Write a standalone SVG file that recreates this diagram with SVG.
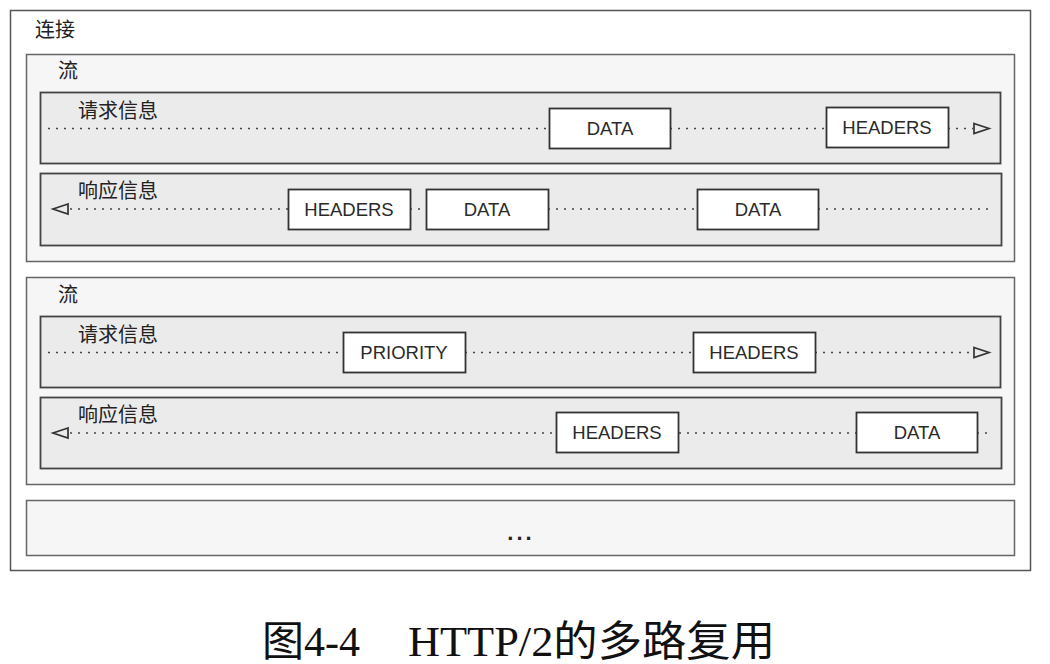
<svg xmlns="http://www.w3.org/2000/svg" width="1050" height="664" viewBox="0 0 1050 664">
<defs>
<style>
.outer{fill:#ffffff;stroke:#555;stroke-width:1.5}
.stream{fill:#f6f6f6;stroke:#666;stroke-width:1.5}
.msg{fill:#ebebeb;stroke:#444;stroke-width:1.8}
.frame{fill:#ffffff;stroke:#333;stroke-width:1.8}
.lbl{font-family:"Noto Sans CJK SC","Noto Sans",sans-serif;font-size:20px;fill:#222}
.ft{font-family:"Liberation Sans",Arial,sans-serif;font-size:18.5px;fill:#2a2a2a;text-anchor:middle}
.dot{stroke:#444;stroke-width:1.7;stroke-dasharray:2 6;fill:none}
.arr{fill:none;stroke:#333;stroke-width:1.7;stroke-linejoin:miter}
.cap{font-family:"Liberation Serif","Noto Sans CJK SC",serif;font-size:42px;fill:#111}
</style>
</defs>
<rect width="1050" height="664" fill="#ffffff"/>
<g id="connection">
<rect class="outer" x="10.5" y="10.5" width="1020" height="560"/>
<text class="lbl" x="35" y="37">连接</text>
</g>
<g id="stream1">
<rect class="stream" x="26.5" y="54.5" width="988" height="207"/>
<text class="lbl" x="58" y="78">流</text>
</g>
<g id="stream1-request">
<rect class="msg" x="40.5" y="92.5" width="960" height="71"/>
<text class="lbl" x="78" y="118">请求信息</text>
</g>
<g id="stream1-response">
<rect class="msg" x="40.5" y="173.5" width="961" height="72"/>
<text class="lbl" x="78" y="198">响应信息</text>
</g>
<g id="stream2">
<rect class="stream" x="26.5" y="277.5" width="988" height="207"/>
<text class="lbl" x="58" y="302">流</text>
</g>
<g id="stream2-request">
<rect class="msg" x="40.5" y="316.5" width="960" height="71"/>
<text class="lbl" x="78" y="342">请求信息</text>
</g>
<g id="stream2-response">
<rect class="msg" x="40.5" y="397.5" width="961" height="71"/>
<text class="lbl" x="78" y="422">响应信息</text>
</g>
<g id="more">
<rect class="stream" x="26.5" y="500.5" width="988" height="55"/>
<text x="521" y="540" font-family="Liberation Sans,Arial,sans-serif" font-size="22" font-weight="bold" fill="#222" text-anchor="middle" letter-spacing="3">...</text>
</g>
<g id="connectors">
<path class="dot" d="M48 128.5H549M670 128.5H826M948 128.5H973"/>
<path class="arr" d="M974 123.5L989 128.5L974 133.5Z"/>
<path class="arr" d="M68 204L53 209L68 214Z"/>
<path class="dot" d="M70 209H288M410 209H426M548 209H697M818 209H990"/>
<path class="dot" d="M48 352.5H343M465 352.5H693M815 352.5H973"/>
<path class="arr" d="M974 347.5L989 352.5L974 357.5Z"/>
<path class="arr" d="M68 428L53 433L68 438Z"/>
<path class="dot" d="M70 433H556M679 433H856M977 433H990"/>
</g>
<g id="f-r1-data"><rect class="frame" x="549.5" y="108.5" width="121" height="40"/><text class="ft" x="610" y="135">DATA</text></g>
<g id="f-r1-headers"><rect class="frame" x="826.5" y="107.5" width="122" height="40"/><text class="ft" x="887" y="134">HEADERS</text></g>
<g id="f-s1-headers"><rect class="frame" x="288.5" y="189.5" width="122" height="40"/><text class="ft" x="349" y="216">HEADERS</text></g>
<g id="f-s1-data1"><rect class="frame" x="426.5" y="189.5" width="122" height="40"/><text class="ft" x="487" y="216">DATA</text></g>
<g id="f-s1-data2"><rect class="frame" x="697.5" y="189.5" width="121" height="40"/><text class="ft" x="758" y="216">DATA</text></g>
<g id="f-r2-priority"><rect class="frame" x="343.5" y="332.5" width="122" height="40"/><text class="ft" x="404" y="359">PRIORITY</text></g>
<g id="f-r2-headers"><rect class="frame" x="693.5" y="332.5" width="122" height="40"/><text class="ft" x="754" y="359">HEADERS</text></g>
<g id="f-s2-headers"><rect class="frame" x="556.5" y="412.5" width="122" height="40"/><text class="ft" x="617" y="439">HEADERS</text></g>
<g id="f-s2-data"><rect class="frame" x="856.5" y="412.5" width="121" height="40"/><text class="ft" x="917" y="439">DATA</text></g>
<text class="cap" x="262" y="656">图4-4 <tspan x="408" textLength="367" lengthAdjust="spacingAndGlyphs">HTTP/2的多路复用</tspan></text>
</svg>
